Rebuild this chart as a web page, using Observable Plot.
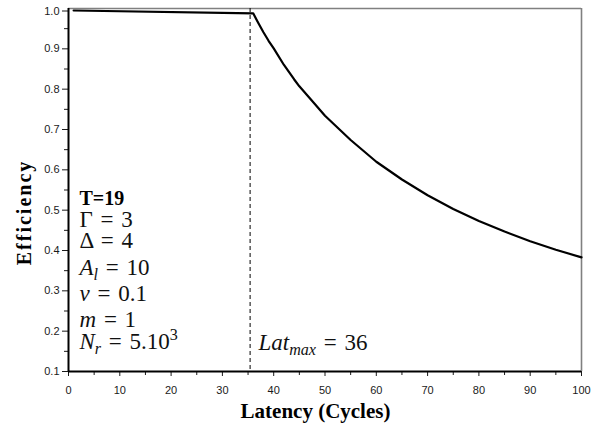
<!DOCTYPE html>
<html><head><meta charset="utf-8">
<script src="https://cdn.jsdelivr.net/npm/d3@7"></script>
<script src="https://cdn.jsdelivr.net/npm/@observablehq/plot@0.6"></script>
<style>body{margin:0;background:#fff} svg{display:block}</style>
</head><body><div id="chart"></div>
<script>
// ---- data ----
const latency    = [1, 36, 37, 38, 39, 40, 42, 44, 45, 47, 50, 55, 60, 65, 70, 75, 80, 85, 90, 95, 100];
const efficiency = [0.995, 0.988, 0.964, 0.941, 0.920, 0.901, 0.860, 0.824, 0.807, 0.778, 0.734, 0.674, 0.620, 0.576, 0.537, 0.503, 0.473, 0.447, 0.423, 0.402, 0.383];
const latMaxLine = [35.4];
const xTicks = [0, 10, 20, 30, 40, 50, 60, 70, 80, 90, 100];
const xMinorTicks = [5, 15, 25, 35, 45, 55, 65, 75, 85, 95];
const yTicks = [0.1, 0.2, 0.3, 0.4, 0.5, 0.6, 0.7, 0.8, 0.9];
const yTopTick = [1.0];
const yMinorTicks = [0.15, 0.25, 0.35, 0.45, 0.55, 0.65, 0.75, 0.85, 0.95];
const xLabel = "Latency (Cycles)";
const yLabel = "Efficiency";
const titleParam = "T=19";
const paramText = ["Γ = 3", "Δ = 4", "A_l = 10", "v = 0.1", "m = 1", "N_r = 5.10^3"];
const latMaxText = "Lat_max = 36";

// ---- layout (pixels) ----
const W = 600, H = 425;
const M = {left: 68, right: 19, top: 8, bottom: 54};
const paramDy = [218.7, 239.3, 266, 292, 318.7, 340];
const mathFont = "Liberation Serif";
const mathSize = 23;

const serif = "Liberation Serif", sans = "Liberation Sans";
const tickStyle = {fontFamily: sans, fontSize: 11, color: "#1a1a1a", label: null};

const paramMarks = paramText.map((s, i) => Plot.text([s], {
  text: d => d, frameAnchor: "top-left", dx: 11, dy: paramDy[i],
  textAnchor: "start", lineAnchor: "bottom",
  fontFamily: mathFont, fontSize: mathSize, fill: "#111"
}));

const chart = Plot.plot({
  width: W, height: H,
  marginLeft: M.left, marginRight: M.right, marginTop: M.top, marginBottom: M.bottom,
  x: {domain: [0, 100]},
  y: {domain: [0.1, 1.0]},
  style: {background: "#fff", overflow: "visible"},
  marks: [
    Plot.ruleY([1.0], {stroke: "#808080", strokeWidth: 1.6}),
    Plot.ruleX([100], {stroke: "#808080", strokeWidth: 1.6}),
    Plot.ruleX(latMaxLine, {stroke: "#000", strokeWidth: 1, strokeDasharray: "4,3"}),
    Plot.line(latency.map((x, i) => ({x, y: efficiency[i]})), {x: "x", y: "y", stroke: "#000", strokeWidth: 2.2}),
    Plot.axisX(xTicks, {...tickStyle, anchor: "bottom", tickSize: 5, tickPadding: 10}),
    Plot.axisX(xMinorTicks, {...tickStyle, anchor: "bottom", tickSize: 4, tickFormat: () => ""}),
    Plot.axisY(yTicks, {...tickStyle, anchor: "left", tickSize: 6, tickPadding: 3, tickFormat: d3.format(".1f")}),
    Plot.axisY(yTopTick, {...tickStyle, anchor: "left", tickSize: 6, tickPadding: 3, dy: 2.5, tickFormat: d3.format(".1f")}),
    Plot.axisY(yMinorTicks, {...tickStyle, anchor: "left", tickSize: 4, tickFormat: () => ""}),
    Plot.ruleX([0], {stroke: "#000", strokeWidth: 2}),
    Plot.ruleY([0.1], {stroke: "#000", strokeWidth: 2}),
    Plot.text([titleParam], {text: d => d, frameAnchor: "top-left", dx: 11, dy: 196,
      textAnchor: "start", lineAnchor: "bottom", fontFamily: serif, fontWeight: "bold", fontSize: 20, fill: "#000"}),
    ...paramMarks,
    Plot.text([latMaxText], {text: d => d, frameAnchor: "top-left", dx: 190, dy: 341,
      textAnchor: "start", lineAnchor: "bottom", fontFamily: mathFont, fontSize: mathSize, fill: "#111"}),
    Plot.text([xLabel], {text: d => d, frameAnchor: "bottom", dx: -9.5, dy: 46, textAnchor: "middle",
      lineAnchor: "bottom", fontFamily: serif, fontWeight: "bold", fontSize: 21, fill: "#000"}),
    Plot.text([yLabel], {text: d => d, frameAnchor: "left", rotate: -90, dx: -44, dy: 22.5, textAnchor: "middle",
      lineAnchor: "middle", fontFamily: serif, fontWeight: "bold", fontSize: 20, fill: "#000"})
  ]
});

// ---- render math-like labels (italic letters, sub/superscripts) ----
const NS = "http://www.w3.org/2000/svg";
function richify(el, str, base) {
  el.textContent = "";
  el.setAttribute("word-spacing", "2");
  const re = /_([A-Za-z]+)|\^(\w+)|([A-Za-z]+)|([^A-Za-z_^]+)/g;
  let m, shift = 0;
  while ((m = re.exec(str))) {
    const t = document.createElementNS(NS, "tspan");
    if (m[1] || m[2]) {
      const sub = !!m[1];
      const d = sub ? base * 0.25 : -base * 0.36;
      t.setAttribute("font-size", base * 0.7);
      t.setAttribute("dy", d - shift); shift = d;
      t.textContent = m[1] || m[2];
      if (sub) t.setAttribute("font-style", "italic");
    } else {
      if (shift) { t.setAttribute("dy", -shift); shift = 0; }
      t.textContent = m[3] || m[4];
      if (m[3]) t.setAttribute("font-style", "italic");
    }
    el.appendChild(t);
  }
}
const mathStrings = new Set([...paramText, latMaxText]);
chart.querySelectorAll("text").forEach(el => {
  const s = el.textContent;
  if (mathStrings.has(s)) richify(el, s, mathSize);
});
const yl = [...chart.querySelectorAll("text")].find(el => el.textContent === yLabel);
if (yl) yl.setAttribute("letter-spacing", "2");

document.getElementById("chart").appendChild(chart);
</script>
</body></html>
